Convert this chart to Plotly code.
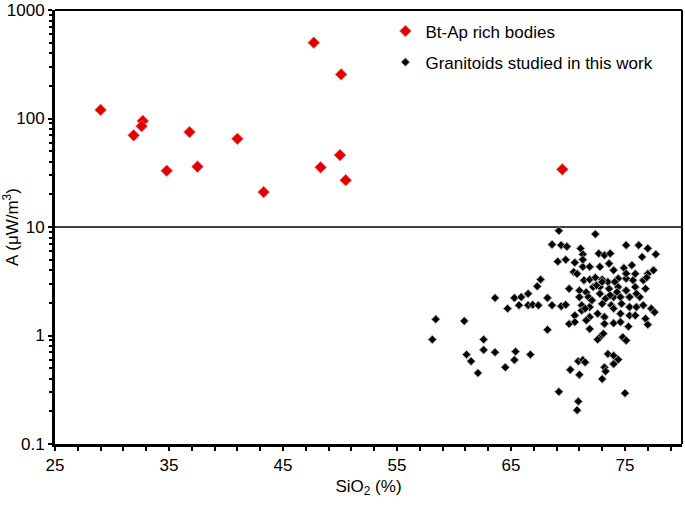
import plotly.graph_objects as go

# Bt-Ap rich bodies (red)
btap_sio2 = [29.0, 31.9, 32.7, 32.6, 34.8, 36.8, 37.5, 41.0, 43.3, 47.7, 48.3, 50.1, 50.0, 50.5, 69.5]
btap_a = [120, 70, 95, 85, 33, 75, 36, 65, 21, 500, 35.5, 255, 46, 27, 34]

# Granitoids studied in this work (black)
gran_sio2 = [
    69.2, 72.4, 68.6, 69.4, 69.9, 71.1, 75.1, 76.2, 77.0, 77.7, 76.5, 71.3, 72.7, 73.2, 73.7,
    69.1, 69.8, 70.6, 71.3, 71.9, 72.8, 73.6, 74.0, 74.9, 75.6, 75.9, 77.5, 77.0, 70.5, 70.8,
    71.4, 71.9, 72.4, 73.0, 73.5, 74.4, 75.1, 75.7, 76.6, 76.9, 67.6, 67.3, 70.1, 71.0, 71.6,
    72.2, 72.8, 73.6, 74.4, 75.1, 75.9, 76.8, 63.6, 65.3, 65.9, 66.5, 64.7, 65.7, 66.5, 66.9,
    67.4, 68.2, 68.6, 69.4, 69.8, 71.0, 71.8, 72.8, 73.3, 74.0, 74.6, 75.4, 76.3, 71.2, 71.9,
    73.0, 73.8, 74.7, 75.4, 76.0, 77.3, 77.6, 70.6, 71.2, 71.9, 72.6, 73.2, 74.0, 74.6, 75.4,
    75.9, 76.8, 70.1, 70.6, 71.6, 71.9, 73.2, 74.0, 74.6, 75.3, 77.0, 72.8, 72.6, 73.1, 74.8,
    75.1, 68.2, 58.4, 60.9, 58.1, 62.6, 62.6, 63.6, 65.4, 66.7, 61.1, 61.5, 62.1, 65.3, 64.5,
    70.9, 71.3, 71.5, 70.2, 71.0, 73.5, 74.0, 74.4, 74.0, 73.2, 73.3, 73.0, 69.2, 75.0, 70.9,
    70.8, 75.1, 76.0, 73.7, 74.3, 76.6, 74.1, 71.3, 72.5, 73.0, 71.5, 72.1,
]
gran_a = [
    9.25, 8.6, 6.9, 6.8, 6.6, 6.35, 6.8, 6.8, 6.35, 5.6, 5.3, 5.6, 5.7, 5.5, 5.7,
    4.8, 5.0, 4.7, 4.3, 4.3, 4.3, 4.6, 4.0, 4.2, 4.45, 3.7, 4.0, 3.7, 3.85, 3.7,
    3.23, 3.28, 3.42, 3.28, 3.12, 3.35, 3.35, 3.23, 3.23, 3.42, 3.28, 2.84, 2.7, 2.6, 2.5,
    2.8, 2.8, 2.7, 2.8, 2.6, 2.8, 2.7, 2.22, 2.22, 2.26, 2.43, 1.77, 1.9, 1.9, 1.92,
    1.9, 2.22, 1.9, 1.86, 1.92, 2.26, 2.26, 2.43, 2.19, 2.26, 2.26, 2.26, 2.26, 1.9, 1.83,
    1.96, 1.9, 1.96, 1.83, 1.83, 1.77, 1.64, 1.53, 1.7, 1.48, 1.59, 1.48, 1.77, 1.59, 1.53,
    1.53, 1.43, 1.28, 1.33, 1.38, 1.15, 1.28, 1.3, 1.33, 1.21, 1.26, 0.965, 0.918, 1.04, 0.965,
    0.9, 1.13, 1.41, 1.36, 0.918, 0.918, 0.737, 0.70, 0.711, 0.667, 0.667, 0.579, 0.451, 0.595, 0.509,
    0.579, 0.595, 0.566, 0.484, 0.435, 0.676, 0.653, 0.60, 0.547, 0.509, 0.468, 0.397, 0.303, 0.294, 0.247,
    0.205, 3.72, 2.43, 2.35, 2.52, 1.9, 3.12, 5.0, 2.9, 3.12, 1.77, 2.11,
]

threshold_a = 10
x_range = [25, 80]
y_range_log = [-1, 3]
x_ticks = [25, 35, 45, 55, 65, 75]
y_ticks = [0.1, 1, 10, 100, 1000]
y_ticklabels = ["0.1", "1", "10", "100", "1000"]

FONT = "Liberation Sans, Arial, sans-serif"

fig = go.Figure()

fig.add_trace(go.Scatter(
    x=x_range, y=[threshold_a, threshold_a], mode="lines",
    line=dict(color="black", width=1.5), showlegend=False, hoverinfo="skip",
))

fig.add_trace(go.Scatter(
    x=btap_sio2, y=btap_a, mode="markers", name="Bt-Ap rich bodies",
    marker=dict(symbol="diamond", size=9, color="#e00000",
                line=dict(color="#f07070", width=0.8)),
    legendgroup="a",
))

fig.add_trace(go.Scatter(
    x=gran_sio2, y=gran_a, mode="markers", name="Granitoids studied in this work",
    marker=dict(symbol="diamond", size=6.5, color="black",
                line=dict(color="#a0a0a0", width=1)),
    legendgroup="b",
))

axis_common = dict(
    showline=True, linecolor="black", linewidth=3, mirror=False,
    ticks="outside", tickcolor="black", tickwidth=1.5, ticklen=4,
    showgrid=False, zeroline=False, automargin=False,
    tickfont=dict(family=FONT, size=17, color="black"),
)

fig.update_xaxes(
    range=x_range, tickvals=x_ticks,
    minor=dict(ticks="outside", dtick=2, tick0=25, ticklen=4, tickcolor="black", tickwidth=1.5, showgrid=False),
    title=dict(text="SiO<sub>2</sub> (%)", font=dict(family=FONT, size=17, color="black"), standoff=6),
    **axis_common,
)
fig.update_yaxes(
    type="log", range=y_range_log, tickvals=y_ticks, ticktext=y_ticklabels,
    minor=dict(ticks="outside", dtick="D1", ticklen=3, tickcolor="black", tickwidth=1.5, showgrid=False),
    title=dict(text="A (μW/m<sup>3</sup>)", font=dict(family=FONT, size=17, color="black"), standoff=4),
    **axis_common,
)

# top and right frame lines (thinner than the axes)
fig.add_shape(type="line", xref="paper", yref="paper", x0=0, x1=1, y0=1, y1=1,
              line=dict(color="black", width=2))
fig.add_shape(type="line", xref="paper", yref="paper", x0=1, x1=1, y0=0, y1=1,
              line=dict(color="black", width=2))

fig.update_layout(
    width=685, height=506,
    margin=dict(l=55, r=3, t=10, b=62),
    plot_bgcolor="white", paper_bgcolor="white",
    font=dict(family=FONT, size=17, color="black"),
    legend=dict(
        x=0.527, xanchor="left", y=0.992, yanchor="top",
        bgcolor="rgba(0,0,0,0)", borderwidth=0,
        font=dict(family=FONT, size=17, color="black"),
        traceorder="grouped", tracegroupgap=6, itemsizing="trace",
    ),
)

fig.write_html(
    "out.html",
    config={"displayModeBar": False},
    post_script="document.body.style.margin='0px';document.body.style.padding='0px';",
)
